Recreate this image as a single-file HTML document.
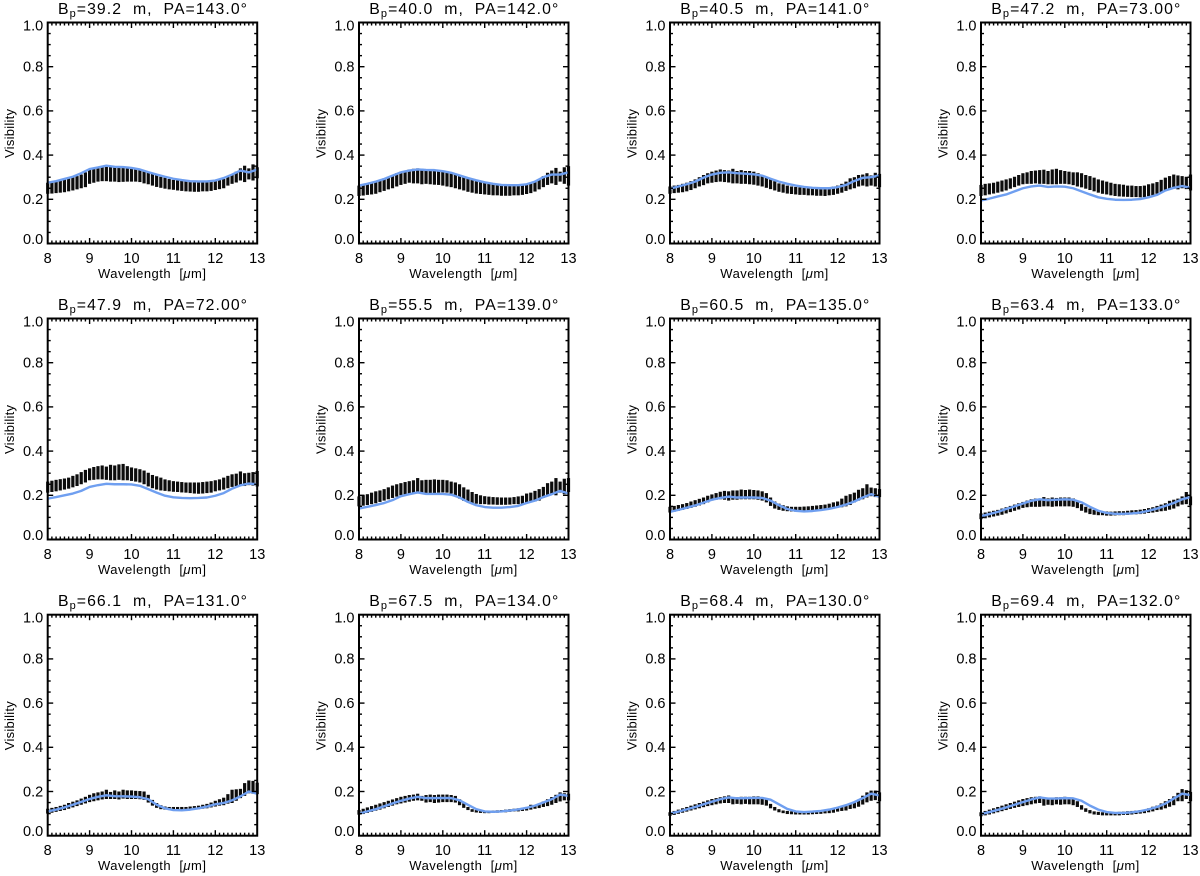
<!DOCTYPE html>
<html lang="en">
<head>
<meta charset="utf-8">
<title>Visibility versus wavelength panels</title>
<style>
html,body{margin:0;padding:0;background:#fff;}
svg{display:block;font-family:"Liberation Sans",sans-serif;fill:#000;}
</style>
</head>
<body>
<svg id="figure" xmlns="http://www.w3.org/2000/svg" width="1200" height="876" viewBox="0 0 1200 876"></svg>
<script>
const dataWavelengths = [8.0,8.1,8.2,8.3,8.4,8.5,8.6,8.7,8.8,8.9,9.0,9.1,9.2,9.3,9.4,9.5,9.6,9.7,9.8,9.9,10.0,10.1,10.2,10.3,10.4,10.5,10.6,10.7,10.8,10.9,11.0,11.1,11.2,11.3,11.4,11.5,11.6,11.7,11.8,11.9,12.0,12.1,12.2,12.3,12.4,12.5,12.6,12.7,12.8,12.9,13.0];
const modelWavelengths = [8.0,8.2,8.4,8.6,8.8,9.0,9.2,9.4,9.6,9.8,10.0,10.2,10.4,10.6,10.8,11.0,11.2,11.4,11.6,11.8,12.0,12.2,12.4,12.6,12.8,13.0];
const xTickValues = [8,9,10,11,12,13];
const yTickValues = [0.0,0.2,0.4,0.6,0.8,1.0];
const baselines = ['39.2','40.0','40.5','47.2','47.9','55.5','60.5','63.4','66.1','67.5','68.4','69.4'];
const angles = ['143.0','142.0','141.0','73.00','72.00','139.0','135.0','133.0','131.0','134.0','130.0','132.0'];

const model1 = [.275,.282,.292,.302,.318,.337,.344,.352,.347,.346,.342,.335,.323,.312,.302,.293,.287,.282,.281,.281,.285,.296,.312,.330,.322,.335];
const lower1 = [.225,.226,.228,.230,.232,.236,.240,.245,.250,.255,.270,.275,.280,.282,.282,.280,.280,.278,.279,.280,.280,.280,.278,.272,.268,.262,.256,.252,.248,.245,.243,.240,.238,.236,.235,.234,.234,.236,.236,.238,.242,.246,.250,.262,.270,.276,.285,.278,.290,.285,.295];
const upper1 = [.275,.279,.282,.286,.290,.295,.300,.305,.312,.322,.335,.340,.345,.347,.348,.352,.345,.345,.344,.342,.340,.338,.335,.328,.322,.315,.308,.302,.298,.292,.288,.286,.284,.282,.280,.280,.279,.279,.279,.280,.283,.287,.292,.302,.312,.325,.340,.352,.340,.358,.345];

const model2 = [.262,.270,.280,.292,.307,.322,.330,.335,.333,.332,.327,.320,.308,.296,.286,.277,.270,.265,.264,.264,.268,.280,.300,.312,.312,.322];
const lower2 = [.215,.217,.220,.222,.225,.232,.238,.245,.250,.258,.265,.270,.275,.272,.272,.268,.270,.268,.266,.265,.262,.258,.255,.250,.245,.240,.234,.230,.226,.224,.222,.220,.218,.218,.216,.216,.216,.218,.218,.220,.224,.228,.235,.245,.255,.265,.272,.265,.280,.270,.262];
const upper2 = [.262,.265,.270,.275,.280,.288,.295,.302,.310,.318,.325,.330,.335,.338,.340,.338,.336,.336,.335,.332,.330,.328,.322,.315,.308,.302,.295,.288,.282,.278,.275,.272,.268,.266,.265,.265,.264,.264,.265,.266,.270,.275,.282,.292,.305,.320,.330,.342,.325,.345,.350];

const model3 = [.248,.258,.268,.280,.298,.312,.320,.322,.318,.316,.313,.307,.293,.280,.270,.262,.256,.252,.250,.250,.255,.265,.283,.297,.300,.308];
const lower3 = [.225,.228,.230,.232,.236,.242,.250,.258,.264,.272,.275,.278,.280,.278,.276,.272,.272,.270,.270,.268,.266,.262,.258,.252,.246,.240,.234,.230,.226,.224,.222,.220,.220,.218,.218,.216,.216,.215,.218,.220,.225,.230,.238,.245,.250,.258,.262,.258,.262,.258,.255];
const upper3 = [.258,.262,.265,.270,.275,.282,.290,.300,.310,.318,.325,.330,.335,.332,.330,.338,.328,.332,.328,.328,.325,.318,.308,.298,.290,.282,.272,.268,.262,.258,.256,.254,.252,.250,.250,.250,.252,.252,.254,.258,.262,.270,.280,.295,.300,.310,.312,.318,.308,.320,.315];

const model4 = [.195,.203,.213,.222,.236,.250,.258,.262,.256,.258,.257,.250,.236,.222,.209,.202,.198,.197,.198,.201,.209,.220,.240,.252,.260,.252];
const lower4 = [.215,.218,.222,.226,.230,.235,.240,.248,.255,.262,.268,.270,.270,.272,.270,.270,.268,.268,.268,.270,.270,.268,.264,.258,.254,.248,.242,.236,.230,.225,.222,.218,.215,.213,.212,.211,.210,.210,.209,.210,.214,.218,.225,.232,.240,.245,.248,.245,.250,.246,.240];
const upper4 = [.265,.270,.272,.275,.280,.285,.290,.295,.302,.310,.318,.322,.328,.330,.332,.334,.328,.335,.338,.332,.328,.325,.322,.322,.318,.310,.305,.298,.290,.285,.280,.275,.270,.268,.266,.262,.262,.260,.260,.262,.268,.272,.278,.288,.298,.305,.312,.308,.305,.302,.312];

const model5 = [.185,.192,.200,.208,.220,.238,.246,.252,.250,.250,.249,.243,.228,.212,.198,.191,.188,.187,.188,.190,.198,.210,.230,.245,.253,.250];
const lower5 = [.212,.215,.218,.222,.226,.230,.236,.242,.250,.258,.268,.270,.272,.272,.270,.268,.268,.270,.268,.268,.265,.262,.258,.250,.240,.232,.226,.222,.220,.218,.216,.215,.213,.212,.210,.208,.207,.208,.210,.212,.218,.222,.226,.232,.238,.242,.246,.242,.246,.244,.240];
const upper5 = [.262,.266,.270,.273,.276,.280,.288,.295,.305,.315,.322,.328,.332,.335,.330,.338,.335,.340,.342,.332,.326,.322,.318,.312,.302,.292,.286,.280,.272,.268,.264,.262,.260,.258,.258,.258,.258,.260,.262,.264,.268,.272,.280,.288,.295,.298,.308,.300,.302,.305,.310];

const model6 = [.140,.148,.156,.165,.178,.196,.205,.213,.206,.206,.206,.203,.190,.170,.155,.147,.144,.144,.147,.152,.165,.176,.192,.205,.220,.208];
const lower6 = [.150,.153,.156,.160,.164,.170,.176,.182,.188,.194,.200,.204,.208,.212,.208,.207,.209,.208,.210,.212,.213,.212,.208,.198,.185,.175,.168,.165,.162,.160,.160,.158,.158,.157,.157,.157,.158,.160,.160,.162,.165,.170,.172,.176,.188,.202,.205,.200,.212,.205,.215];
const upper6 = [.195,.200,.205,.212,.218,.222,.228,.236,.244,.250,.255,.260,.264,.268,.278,.268,.270,.270,.272,.270,.270,.268,.262,.258,.250,.236,.226,.215,.206,.200,.196,.194,.192,.191,.190,.190,.190,.192,.195,.198,.208,.212,.220,.228,.238,.255,.262,.278,.262,.275,.278];

const model7 = [.125,.134,.144,.154,.167,.180,.188,.194,.190,.190,.190,.188,.176,.155,.138,.130,.127,.129,.133,.139,.147,.158,.172,.190,.205,.193];
const lower7 = [.122,.126,.130,.134,.138,.143,.148,.154,.160,.168,.176,.180,.182,.180,.176,.180,.180,.182,.182,.182,.182,.180,.176,.168,.152,.140,.134,.130,.128,.127,.126,.126,.126,.127,.128,.130,.132,.134,.136,.140,.144,.146,.150,.156,.168,.176,.182,.190,.196,.192,.192];
const upper7 = [.148,.152,.156,.160,.165,.172,.178,.184,.190,.198,.204,.210,.216,.220,.218,.222,.222,.226,.224,.226,.224,.222,.218,.210,.190,.172,.162,.155,.150,.148,.148,.148,.149,.150,.152,.154,.156,.158,.162,.168,.172,.185,.198,.205,.212,.225,.232,.250,.235,.232,.228];

const model8 = [.105,.115,.125,.138,.150,.163,.175,.182,.178,.180,.182,.180,.168,.148,.130,.120,.116,.116,.118,.122,.130,.140,.152,.165,.182,.192];
const lower8 = [.092,.096,.100,.104,.108,.112,.118,.124,.130,.136,.143,.146,.148,.148,.148,.150,.150,.148,.150,.150,.150,.150,.148,.142,.130,.122,.115,.112,.110,.110,.108,.108,.109,.110,.110,.112,.113,.114,.115,.117,.120,.122,.125,.128,.130,.135,.140,.150,.158,.160,.155];
const upper8 = [.118,.122,.126,.130,.134,.140,.146,.152,.158,.164,.170,.176,.182,.185,.184,.192,.186,.190,.188,.190,.190,.190,.186,.176,.160,.148,.140,.134,.130,.128,.127,.126,.127,.128,.128,.130,.132,.133,.135,.138,.142,.146,.152,.158,.164,.175,.180,.185,.195,.215,.195];

const model9 = [.110,.118,.128,.140,.153,.166,.176,.183,.179,.178,.177,.174,.165,.140,.124,.116,.115,.118,.124,.132,.142,.148,.160,.178,.200,.190];
const lower9 = [.100,.104,.108,.112,.116,.122,.128,.134,.140,.146,.152,.156,.160,.164,.166,.166,.166,.164,.168,.166,.166,.166,.165,.162,.150,.136,.126,.120,.118,.116,.115,.114,.114,.116,.118,.119,.120,.122,.124,.128,.132,.136,.138,.145,.148,.158,.170,.180,.192,.190,.188];
const upper9 = [.122,.126,.130,.135,.140,.148,.154,.160,.168,.176,.185,.192,.196,.200,.208,.198,.205,.200,.208,.205,.205,.203,.202,.200,.185,.162,.148,.138,.132,.130,.130,.130,.130,.130,.132,.134,.136,.140,.144,.150,.158,.165,.172,.188,.208,.210,.212,.238,.250,.248,.240];

const model10 = [.100,.110,.120,.133,.146,.158,.168,.176,.170,.170,.171,.170,.160,.140,.120,.110,.108,.110,.114,.119,.126,.136,.150,.165,.186,.180];
const lower10 = [.095,.098,.103,.108,.113,.118,.124,.130,.136,.142,.146,.150,.154,.158,.160,.158,.150,.152,.148,.150,.152,.152,.152,.150,.138,.126,.116,.108,.105,.103,.102,.102,.103,.104,.105,.106,.108,.110,.110,.112,.114,.118,.122,.125,.130,.134,.140,.148,.155,.160,.160];
const upper10 = [.116,.122,.128,.134,.140,.146,.152,.158,.164,.170,.176,.180,.184,.186,.190,.180,.184,.186,.184,.186,.186,.186,.184,.180,.165,.146,.130,.120,.116,.114,.114,.114,.114,.115,.116,.118,.120,.122,.124,.126,.130,.140,.138,.146,.155,.165,.175,.185,.196,.192,.190];

const model11 = [.100,.109,.119,.130,.142,.154,.165,.173,.169,.170,.171,.171,.163,.142,.121,.110,.107,.109,.112,.118,.127,.138,.152,.170,.190,.182];
const lower11 = [.090,.094,.099,.104,.109,.114,.119,.124,.129,.134,.138,.142,.146,.148,.148,.142,.144,.142,.144,.142,.142,.142,.140,.136,.124,.114,.106,.102,.098,.097,.096,.096,.096,.096,.097,.098,.099,.101,.102,.104,.109,.112,.114,.121,.124,.131,.141,.151,.158,.161,.156];
const upper11 = [.106,.112,.118,.124,.130,.136,.142,.148,.154,.160,.166,.170,.174,.178,.182,.174,.174,.176,.176,.176,.178,.178,.174,.164,.144,.130,.120,.114,.112,.110,.109,.109,.110,.111,.112,.114,.116,.118,.119,.122,.128,.132,.136,.146,.152,.164,.181,.196,.204,.204,.196];

const model12 = [.098,.107,.117,.128,.140,.152,.164,.173,.168,.168,.170,.169,.158,.136,.118,.107,.103,.103,.106,.111,.119,.130,.145,.168,.190,.184];
const lower12 = [.088,.092,.096,.101,.106,.111,.116,.121,.126,.130,.134,.138,.142,.146,.148,.136,.140,.138,.142,.140,.142,.142,.138,.130,.118,.108,.101,.096,.094,.092,.092,.092,.092,.092,.094,.094,.096,.098,.100,.102,.106,.110,.116,.118,.124,.131,.138,.156,.156,.166,.156];
const upper12 = [.106,.112,.118,.124,.130,.136,.142,.148,.154,.160,.166,.170,.174,.176,.178,.170,.172,.172,.174,.174,.176,.174,.168,.156,.138,.124,.116,.110,.108,.106,.106,.106,.107,.108,.109,.111,.112,.114,.116,.118,.124,.131,.136,.146,.156,.166,.178,.194,.211,.206,.198];

const modelSeries = [model1,model2,model3,model4,model5,model6,model7,model8,model9,model10,model11,model12];
const lowerSeries = [lower1,lower2,lower3,lower4,lower5,lower6,lower7,lower8,lower9,lower10,lower11,lower12];
const upperSeries = [upper1,upper2,upper3,upper4,upper5,upper6,upper7,upper8,upper9,upper10,upper11,upper12];

const svgNS = 'http://www.w3.org/2000/svg';
const figure = document.getElementById('figure');
const panelLefts = [47.7,359,670,981];
const panelBottoms = [243.5,539.5,835.7];
const panelWidth = 209.5;
const panelHeight = 221;

function make(parent, tag, attrs, content) {
  const el = document.createElementNS(svgNS, tag);
  for (const key in attrs) el.setAttribute(key, attrs[key]);
  if (content !== undefined) el.textContent = content;
  parent.appendChild(el);
  return el;
}

function drawPanel(index) {
  const left = panelLefts[index % 4];
  const bottom = panelBottoms[Math.floor(index / 4)];
  const right = left + panelWidth;
  const top = bottom - panelHeight;
  const xScale = function (w) { return left + (w - 8) / 5 * panelWidth; };
  const yScale = function (v) { return bottom - v * panelHeight; };

  const panel = make(figure, 'g', {});
  
  

  const errorBars = make(panel, 'g', {stroke: '#0c0c0c', 'stroke-width': 3.2});
  
  
  dataWavelengths.forEach(function (w, i) {
    const bar = make(errorBars, 'line', {x1: xScale(w), x2: xScale(w), y1: yScale(lowerSeries[index][i]), y2: yScale(upperSeries[index][i])});
    
    
  });

  const points = modelWavelengths.map(function (w, i) {
    return xScale(w).toFixed(2) + ',' + yScale(modelSeries[index][i]).toFixed(2);
  }).join(' ');
  const modelLine = make(panel, 'polyline', {points: points, fill: 'none', stroke: '#6f9ff0', 'stroke-width': 2.4, 'stroke-linejoin': 'round'});
  
  

  const ticks = make(panel, 'g', {stroke: '#000', 'stroke-width': 1.4});
  
  
  for (let m = 0; m <= 50; m++) {
    const x = xScale(8 + m / 10);
    const len = m % 10 === 0 ? 5.5 : 3;
    make(ticks, 'line', {x1: x, x2: x, y1: bottom, y2: bottom - len});
    make(ticks, 'line', {x1: x, x2: x, y1: top, y2: top + len});
  }
  for (let m = 0; m <= 20; m++) {
    const y = yScale(m / 20);
    const len = m % 4 === 0 ? 5.5 : 3;
    make(ticks, 'line', {x1: left, x2: left + len, y1: y, y2: y});
    make(ticks, 'line', {x1: right, x2: right - len, y1: y, y2: y});
  }

  const frame = make(panel, 'rect', {x: left, y: top, width: panelWidth, height: panelHeight, fill: 'none', stroke: '#000', 'stroke-width': 2});
  
  

  xTickValues.forEach(function (t) {
    const label = make(panel, 'text', {x: xScale(t), y: bottom + 19.5, 'text-anchor': 'middle', 'font-size': 14.5}, String(t));
    
    
  });
  yTickValues.forEach(function (t) {
    const shift = t === 0 ? 0.5 : (t === 1 ? 8 : 4.8);
    const label = make(panel, 'text', {x: left - 4.5, y: yScale(t) + shift, 'text-anchor': 'end', 'font-size': 14.5}, t.toFixed(1));
    
    
  });

  const title = make(panel, 'text', {x: left + 10.3, y: top - 8.5, 'font-size': 15.8, textLength: 189, lengthAdjust: 'spacing'});
  
  
  make(title, 'tspan', {}, 'B');
  make(title, 'tspan', {dy: 3, 'font-size': 11}, 'p');
  make(title, 'tspan', {dy: -3}, '=' + baselines[index] + '\u00A0\u00A0m,\u00A0\u00A0PA=' + angles[index] + '\u00B0');

  const xTitle = make(panel, 'text', {x: left + 50.3, y: bottom + 34.5, 'font-size': 13, textLength: 108, lengthAdjust: 'spacing'});
  
  
  make(xTitle, 'tspan', {}, 'Wavelength\u00A0\u00A0[');
  make(xTitle, 'tspan', {'font-style': 'italic'}, '\u03BC');
  make(xTitle, 'tspan', {}, 'm]');

  const yCenter = bottom - 110;
  const yTitle = make(panel, 'text', {
    x: left - 33.7, y: yCenter, 'font-size': 13, 'text-anchor': 'middle',
    textLength: 49, lengthAdjust: 'spacing',
    transform: 'rotate(-90 ' + (left - 33.7) + ' ' + yCenter + ')'
  }, 'Visibility');
  
  
}

for (let p = 0; p < modelSeries.length; p++) drawPanel(p);
</script>
</body>
</html>
